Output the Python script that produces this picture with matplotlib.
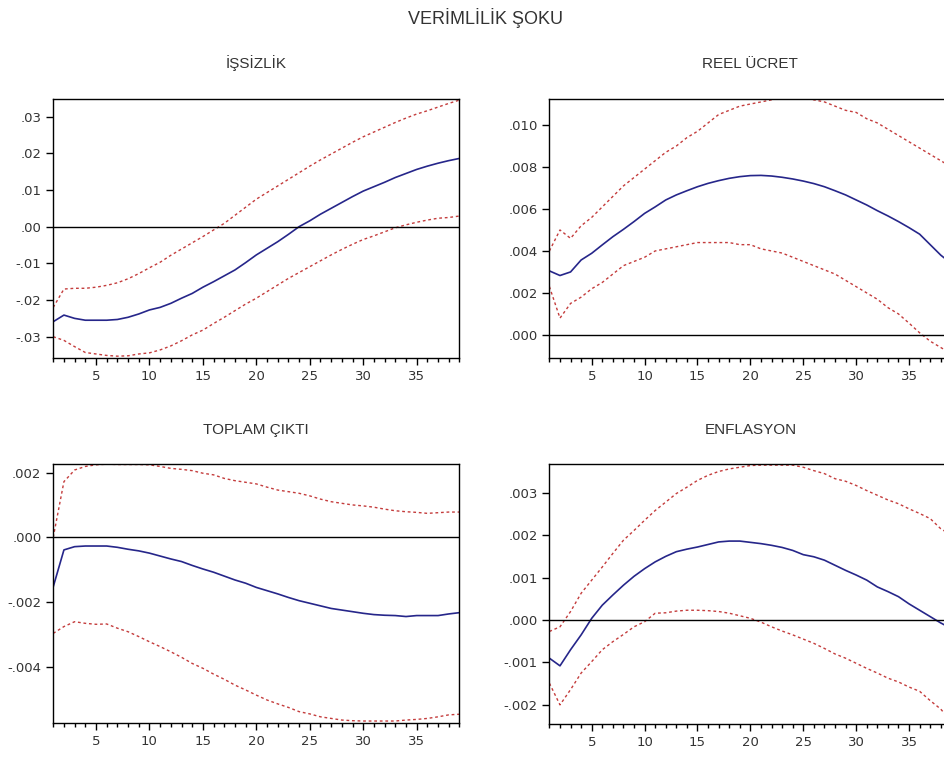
import matplotlib
matplotlib.use('Agg')
import matplotlib.pyplot as plt
from matplotlib.ticker import FixedLocator, MultipleLocator, FuncFormatter

plt.rcParams['font.family'] = ['Liberation Sans', 'DejaVu Sans']

periods = list(range(1, 40))

# ISSIZLIK
issizlik = [-0.0259, -0.0241, -0.0250, -0.0255, -0.0255, -0.0255, -0.0253, -0.0247, -0.0238, -0.0227,
            -0.0220, -0.0209, -0.0195, -0.0182, -0.0165, -0.0150, -0.0134, -0.0118, -0.0098, -0.0077,
            -0.0059, -0.0041, -0.0021, 0.0000, 0.0016, 0.0034, 0.0050, 0.0066, 0.0082, 0.0097,
            0.0109, 0.0121, 0.0134, 0.0145, 0.0156, 0.0165, 0.0173, 0.0180, 0.0186]
issizlik_ust = [-0.0220, -0.0170, -0.0168, -0.0168, -0.0165, -0.0160, -0.0153, -0.0142, -0.0128, -0.0112,
                -0.0097, -0.0078, -0.0061, -0.0044, -0.0027, -0.0009, 0.0009, 0.0031, 0.0053, 0.0075,
                0.0093, 0.0111, 0.0129, 0.0147, 0.0165, 0.0182, 0.0198, 0.0214, 0.0230, 0.0245,
                0.0258, 0.0271, 0.0284, 0.0296, 0.0307, 0.0316, 0.0326, 0.0336, 0.0345]
issizlik_alt = [-0.0300, -0.0310, -0.0327, -0.0343, -0.0347, -0.0351, -0.0353, -0.0352, -0.0347, -0.0344,
                -0.0336, -0.0325, -0.0311, -0.0295, -0.0282, -0.0264, -0.0247, -0.0229, -0.0211, -0.0195,
                -0.0177, -0.0159, -0.0141, -0.0125, -0.0109, -0.0093, -0.0077, -0.0062, -0.0048, -0.0035,
                -0.0025, -0.0014, -0.0003, 0.0005, 0.0012, 0.0018, 0.0023, 0.0025, 0.0029]

# REEL UCRET
ucret = [0.00305, 0.00283, 0.00300, 0.00357, 0.00389, 0.00429, 0.00468, 0.00503, 0.00540, 0.00579,
         0.00610, 0.00643, 0.00667, 0.00687, 0.00706, 0.00722, 0.00735, 0.00746, 0.00754, 0.00759,
         0.00760, 0.00757, 0.00751, 0.00743, 0.00733, 0.00721, 0.00706, 0.00687, 0.00667, 0.00643,
         0.00619, 0.00592, 0.00567, 0.00540, 0.00511, 0.00480, 0.00430, 0.00380, 0.00340]
ucret_ust = [0.0040, 0.0050, 0.0046, 0.0052, 0.0056, 0.0061, 0.0066, 0.0071, 0.0075, 0.0079,
             0.0083, 0.0087, 0.0090, 0.0094, 0.0097, 0.0101, 0.0105, 0.0107, 0.0109, 0.0110,
             0.0111, 0.0112, 0.0113, 0.0113, 0.0113, 0.0112, 0.0111, 0.0109, 0.0107, 0.0106,
             0.0103, 0.0101, 0.0098, 0.0095, 0.0092, 0.0089, 0.0086, 0.0083, 0.0080]
ucret_alt = [0.0023, 0.0008, 0.0015, 0.0018, 0.0022, 0.0025, 0.0029, 0.0033, 0.0035, 0.0037,
             0.0040, 0.0041, 0.0042, 0.0043, 0.0044, 0.0044, 0.0044, 0.0044, 0.0043, 0.0043,
             0.0041, 0.0040, 0.0039, 0.0037, 0.0035, 0.0033, 0.0031, 0.0029, 0.0026, 0.0023,
             0.0020, 0.0017, 0.0013, 0.0010, 0.00056, 0.0001, -0.0003, -0.0006, -0.0009]

# TOPLAM CIKTI
cikti = [-0.00153, -0.00039, -0.00029, -0.00027, -0.00027, -0.00027, -0.00031, -0.00037, -0.00042, -0.00049,
         -0.00058, -0.00067, -0.00075, -0.00087, -0.00098, -0.00108, -0.00120, -0.00132, -0.00142, -0.00155,
         -0.00165, -0.00175, -0.00186, -0.00196, -0.00204, -0.00212, -0.00220, -0.00225, -0.00230, -0.00235,
         -0.00239, -0.00241, -0.00242, -0.00245, -0.00242, -0.00242, -0.00242, -0.00237, -0.00233]
cikti_ust = [0.0, 0.00172, 0.00208, 0.00219, 0.00224, 0.00226, 0.00225, 0.00225, 0.00225, 0.00224,
             0.00219, 0.00213, 0.00210, 0.00206, 0.00198, 0.00193, 0.00182, 0.00175, 0.00170, 0.00165,
             0.00155, 0.00146, 0.00141, 0.00136, 0.00128, 0.00118, 0.00110, 0.00105, 0.00100, 0.00097,
             0.00093, 0.00087, 0.00082, 0.00079, 0.00077, 0.00074, 0.00076, 0.00078, 0.00078]
cikti_alt = [-0.00297, -0.00276, -0.00261, -0.00266, -0.00269, -0.00268, -0.00281, -0.00292, -0.00307, -0.00323,
             -0.00338, -0.00354, -0.00371, -0.00390, -0.00405, -0.00423, -0.00439, -0.00457, -0.00472, -0.00488,
             -0.00503, -0.00515, -0.00526, -0.00539, -0.00546, -0.00555, -0.00560, -0.00565, -0.00567, -0.00568,
             -0.00568, -0.00568, -0.00568, -0.00565, -0.00563, -0.00560, -0.00555, -0.00549, -0.00547]

# ENFLASYON
enflasyon = [-0.00090, -0.00108, -0.00070, -0.00035, 0.00004, 0.00035, 0.00059, 0.00082, 0.00103, 0.00121,
             0.00137, 0.00150, 0.00161, 0.00167, 0.00172, 0.00178, 0.00184, 0.00186, 0.00186, 0.00183,
             0.00180, 0.00176, 0.00171, 0.00164, 0.00154, 0.00149, 0.00141, 0.00129, 0.00117, 0.00106,
             0.00094, 0.00078, 0.00067, 0.00055, 0.00038, 0.00023, 0.00008, -0.00007, -0.00020]
enflasyon_ust = [-0.00027, -0.00016, 0.00020, 0.00063, 0.00094, 0.00125, 0.00157, 0.00188, 0.00211, 0.00235,
                 0.00258, 0.00278, 0.00298, 0.00313, 0.00329, 0.00341, 0.00350, 0.00356, 0.00360, 0.00364,
                 0.00365, 0.00365, 0.00365, 0.00365, 0.00360, 0.00352, 0.00345, 0.00333, 0.00327, 0.00317,
                 0.00305, 0.00294, 0.00283, 0.00274, 0.00262, 0.00251, 0.00239, 0.00215, 0.00200]
enflasyon_alt = [-0.00149, -0.00200, -0.00164, -0.00125, -0.00098, -0.00070, -0.00051, -0.00034, -0.00016, -0.00004,
                 0.00016, 0.00017, 0.00021, 0.00023, 0.00023, 0.00022, 0.00020, 0.00016, 0.00010, 0.00004,
                 -0.00005, -0.00016, -0.00026, -0.00035, -0.00045, -0.00055, -0.00067, -0.00080, -0.00090, -0.00102,
                 -0.00114, -0.00125, -0.00137, -0.00146, -0.00158, -0.00168, -0.00190, -0.00210, -0.00240]

fig = plt.figure(figsize=(9.44, 7.58), dpi=100)
fig.text(0.514, 0.976, 'VERİMLİLİK ŞOKU', ha='center', va='center', fontsize=13, color='#333333')


def fmt(decimals):
    def f(v, pos):
        if abs(v) < 1e-12:
            v = 0.0
        s = '%.*f' % (decimals, v)
        return s.replace('0.', '.', 1)
    return FuncFormatter(f)


def panel(rect, title, mid, ust, alt, ylim, yticks, decimals):
    ax = fig.add_axes(rect)
    ax.plot(periods, mid, color='#26268a', lw=1.2)
    ax.plot(periods, ust, color='#c43c3c', lw=1.0, dashes=(2, 2))
    ax.plot(periods, alt, color='#c43c3c', lw=1.0, dashes=(2, 2))
    ax.axhline(0, color='black', lw=1.0)
    ax.set_xlim(1, 39)
    ax.set_ylim(*ylim)
    ax.xaxis.set_major_locator(FixedLocator([5, 10, 15, 20, 25, 30, 35]))
    ax.xaxis.set_minor_locator(MultipleLocator(1))
    ax.yaxis.set_major_locator(FixedLocator(yticks))
    ax.yaxis.set_major_formatter(fmt(decimals))
    ax.tick_params(axis='both', which='major', direction='out', length=5, width=1,
                   colors='black', labelcolor='#333333')
    ax.tick_params(axis='x', which='minor', direction='out', length=3, width=1)
    ax.tick_params(top=False, right=False)
    for lab in ax.get_xticklabels() + ax.get_yticklabels():
        lab.set_family(['DejaVu Sans'])
        lab.set_fontsize(9.5)
    for sp in ax.spines.values():
        sp.set_linewidth(1.0)
    ax.set_title(title, fontsize=11, color='#333333', pad=22)
    return ax


panel([0.0564, 0.5277, 0.4303, 0.3417], 'İŞSİZLİK', issizlik, issizlik_ust, issizlik_alt,
      (-0.0358, 0.0348), [-0.03, -0.02, -0.01, 0.0, 0.01, 0.02, 0.03], 2)
panel([0.5820, 0.5277, 0.4258, 0.3417], 'REEL ÜCRET', ucret, ucret_ust, ucret_alt,
      (-0.0011, 0.01124), [0.0, 0.002, 0.004, 0.006, 0.008, 0.010], 3)
panel([0.0564, 0.0458, 0.4303, 0.3417], 'TOPLAM ÇIKTI', cikti, cikti_ust, cikti_alt,
      (-0.00575, 0.002257), [-0.004, -0.002, 0.0, 0.002], 3)
panel([0.5820, 0.0449, 0.4258, 0.3426], 'ENFLASYON', enflasyon, enflasyon_ust, enflasyon_alt,
      (-0.00245, 0.00367), [-0.002, -0.001, 0.0, 0.001, 0.002, 0.003], 3)

fig.savefig('out.png', dpi=100, facecolor='white')
